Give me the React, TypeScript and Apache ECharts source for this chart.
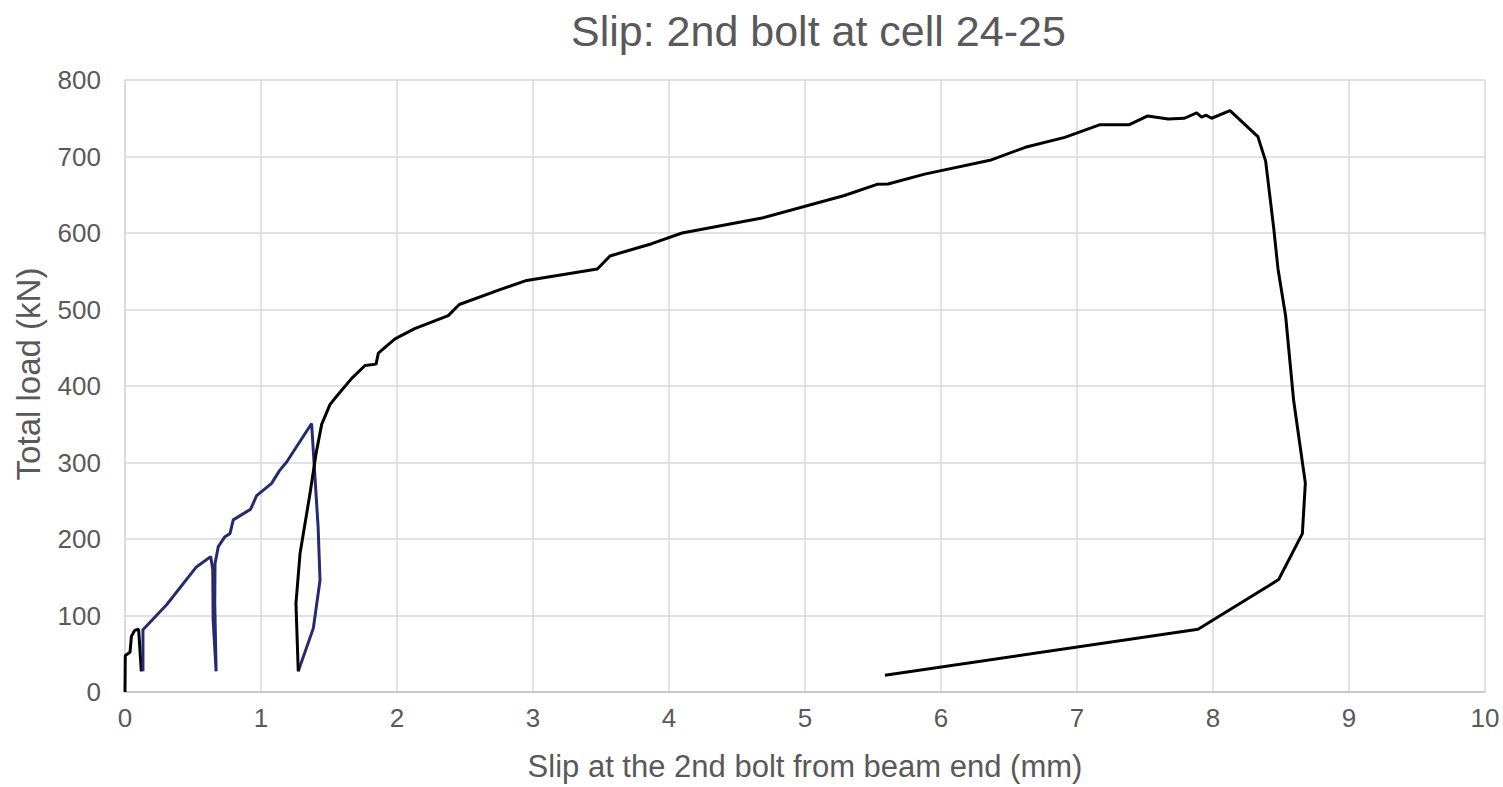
import React, { useEffect, useRef } from "react";
import * as echarts from "echarts";

const titleText = "Slip: 2nd bolt at cell 24-25";
const xAxisName = "Slip at the 2nd bolt from beam end (mm)";
const yAxisName = "Total load (kN)";

// Initial loading branch (black)
const initialBranch: [number, number][] = [
  [0, 0], [0.002, 47.6], [0.037, 52], [0.047, 72.7], [0.071, 80.5], [0.1, 82], [0.12, 27],
];

// Cyclic loading / unloading branch (navy)
const cyclicBranch: [number, number][] = [
  [0.132, 27], [0.132, 81.4], [0.306, 114], [0.522, 163], [0.63, 177],
  [0.645, 160], [0.648, 95], [0.67, 27],
  [0.66, 116], [0.662, 168], [0.686, 190], [0.735, 203], [0.772, 207], [0.796, 225],
  [0.924, 239], [0.968, 256.7], [1.078, 272.7], [1.135, 289], [1.19, 301], [1.372, 351],
  [1.42, 215.6], [1.434, 146], [1.385, 83.5], [1.274, 27],
];

// Final loading to failure (black)
const finalBranch: [number, number][] = [
  [1.274, 27], [1.257, 116], [1.287, 181], [1.36, 259], [1.404, 310.8], [1.446, 349.8],
  [1.507, 375.7], [1.556, 386.6], [1.667, 410], [1.765, 426.8], [1.846, 428.6], [1.863, 443],
  [1.985, 461.5], [2.13, 475], [2.377, 492], [2.458, 506.5], [2.757, 526], [2.954, 538],
  [3.473, 553], [3.566, 570], [3.873, 586], [4.096, 600], [4.684, 619.5], [5.29, 649],
  [5.53, 663.6], [5.61, 664], [5.88, 677], [6.36, 695], [6.62, 712], [6.91, 725],
  [7.17, 741.6], [7.385, 741.6], [7.52, 753], [7.67, 749], [7.79, 750], [7.88, 757],
  [7.916, 751.5], [7.95, 754], [7.99, 750], [8.125, 760], [8.33, 726], [8.387, 694],
  [8.446, 607], [8.478, 553], [8.534, 491.5], [8.593, 381], [8.679, 273], [8.657, 207],
  [8.483, 147], [7.89, 82], [5.588, 22],
];

const FONT = "'Liberation Sans', Arial, sans-serif";
const TEXT_COLOR = "#595959";

export default function App() {
  const ref = useRef<HTMLDivElement>(null);
  useEffect(() => {
    document.body.style.margin = "0";
    if (!ref.current) return;
    const chart = echarts.init(ref.current, undefined, { renderer: "svg" });
    const lineSeries = (data: [number, number][], color: string) => ({
      type: "line",
      data,
      showSymbol: false,
      symbol: "none",
      lineStyle: { color, width: 3 },
      z: 3,
    });
    chart.setOption({
      animation: false,
      backgroundColor: "#ffffff",
      title: {
        text: titleText,
        left: 566,
        top: 4,
        textStyle: { fontFamily: FONT, fontSize: 43, fontWeight: "normal", color: TEXT_COLOR },
      },
      grid: { left: 125, right: 18, top: 80, bottom: 91 },
      xAxis: {
        type: "value",
        min: 0,
        max: 10,
        interval: 1,
        name: xAxisName,
        nameLocation: "middle",
        nameGap: 59,
        nameTextStyle: { fontFamily: FONT, fontSize: 31, color: TEXT_COLOR },
        axisLine: { show: true, lineStyle: { color: "#bfbfbf", width: 1.5 } },
        axisTick: { show: false },
        axisLabel: { fontFamily: FONT, fontSize: 26, color: TEXT_COLOR, margin: 13 },
        splitLine: { show: true, lineStyle: { color: "#d9d9d9", width: 1.5 } },
      },
      yAxis: {
        type: "value",
        min: 0,
        max: 800,
        interval: 100,
        name: yAxisName,
        nameLocation: "middle",
        nameGap: 80,
        nameTextStyle: { fontFamily: FONT, fontSize: 33, color: TEXT_COLOR, padding: [0, 0, 0, 24] },
        axisLine: { show: true, lineStyle: { color: "#d9d9d9", width: 1.5 } },
        axisTick: { show: false },
        axisLabel: { fontFamily: FONT, fontSize: 26, color: TEXT_COLOR, margin: 24 },
        splitLine: { show: true, lineStyle: { color: "#d9d9d9", width: 1.5 } },
      },
      series: [
        lineSeries(initialBranch, "#000000"),
        lineSeries(cyclicBranch, "#262b70"),
        lineSeries(finalBranch, "#000000"),
      ],
    });
    return () => chart.dispose();
  }, []);
  return <div ref={ref} style={{ width: 1503, height: 787 }} />;
}
